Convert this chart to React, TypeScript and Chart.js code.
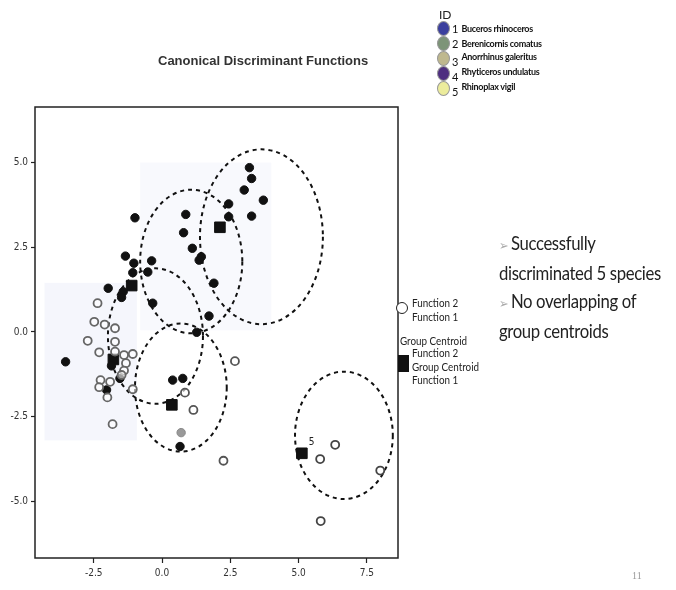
import React, { useEffect, useRef } from "react";
import { Chart, registerables } from "chart.js";

Chart.register(...registerables);

// ---- data (discriminant scores) ----
const xTicks = [-2.5, 0, 2.5, 5, 7.5];
const yTicks = [-5, -2.5, 0, 2.5, 5];

const clusterUpperRight = [
  [3.2, 4.85], [3.28, 4.53], [3.01, 4.19], [3.71, 3.89], [2.44, 3.78], [3.28, 3.42], [2.44, 3.4],
];
const clusterMiddle = [
  [0.87, 3.47], [0.79, 2.93], [1.11, 2.47], [1.44, 2.22], [1.36, 2.12], [1.9, 1.44], [1.72, 0.47], [1.27, -0.01],
];
const clusterLeftFilled = [
  [-0.99, 3.37], [-1.34, 2.24], [-1.03, 2.03], [-0.38, 2.1], [-0.52, 1.77], [-1.07, 1.75], [-1.97, 1.29],
  [-1.42, 1.19], [-1.48, 1.02], [-0.34, 0.85], [-3.53, -0.88], [-2.03, -1.71], [-1.54, -1.37], [-1.85, -1.0],
];
const clusterLowerFilled = [
  [0.39, -1.42], [0.76, -1.37], [0.66, -3.38],
];
const clusterLeftOpen = [
  [-2.36, 0.85], [-2.48, 0.3], [-2.1, 0.22], [-1.72, 0.11], [-2.72, -0.26], [-2.3, -0.6], [-1.72, -0.29],
  [-1.72, -0.58], [-1.39, -0.68], [-1.07, -0.65], [-1.32, -0.92], [-1.39, -1.14], [-1.48, -1.27],
  [-2.25, -1.42], [-1.9, -1.47], [-2.3, -1.63], [-2.0, -1.93], [-1.07, -1.69], [-1.81, -2.72],
];
const otherOpen = [
  [0.84, -1.79], [1.15, -2.3], [2.67, -0.86], [2.25, -3.8],
];
const greyFilled = [[0.7, -2.97]];
const clusterRightOpen = [
  [5.79, -3.75], [6.34, -3.33], [7.99, -4.09], [5.81, -5.58],
];
const centroids = [
  [2.12, 3.09], [-1.11, 1.37], [-1.78, -0.81], [0.36, -2.15], [5.12, -3.58],
];
// ellipses: centre x, centre y, radius x, radius y (data units)
const ellipses = [
  [3.64, 2.81, 2.25, 2.58],
  [1.07, 2.08, 1.87, 2.12],
  [-0.24, -0.12, 1.74, 2.0],
  [0.69, -1.64, 1.68, 1.89],
  [6.66, -3.05, 1.79, 1.88],
];
const legendIds = ["1", "2", "3", "4", "5"];
const legendNames = ["Buceros rhinoceros", "Berenicornis comatus", "Anorrhinus galeritus", "Rhyticeros undulatus", "Rhinoplax vigil"];
const legendColors = ["#3b3f9e", "#7d9478", "#bfb88e", "#4e2f80", "#ecec9c"];

const toPts = (a: number[][]) => a.map(([x, y]) => ({ x, y }));

const ellipsePlugin = {
  id: "ellipses",
  beforeDatasetsDraw(chart: any) {
    const { ctx, scales, chartArea } = chart;
    const xs = scales.x, ys = scales.y;
    ctx.save();
    // faint background shading of the photographed slide
    ctx.fillStyle = "rgba(232,235,248,0.45)";
    const a1 = [xs.getPixelForValue(-4.3), ys.getPixelForValue(1.45)];
    const b1 = [xs.getPixelForValue(-0.92), ys.getPixelForValue(-3.2)];
    ctx.fillRect(a1[0], a1[1], b1[0] - a1[0], b1[1] - a1[1]);
    ctx.fillStyle = "rgba(238,241,250,0.4)";
    const a2 = [xs.getPixelForValue(-0.8), ys.getPixelForValue(5.0)];
    const b2 = [xs.getPixelForValue(4.0), ys.getPixelForValue(0.05)];
    ctx.fillRect(a2[0], a2[1], b2[0] - a2[0], b2[1] - a2[1]);
    ctx.restore();

    ctx.save();
    ctx.strokeStyle = "#111";
    ctx.lineWidth = 2;
    ctx.setLineDash([4, 4]);
    for (const [cx, cy, rx, ry] of ellipses) {
      const px = xs.getPixelForValue(cx);
      const py = ys.getPixelForValue(cy);
      const prx = Math.abs(xs.getPixelForValue(cx + rx) - px);
      const pry = Math.abs(ys.getPixelForValue(cy + ry) - py);
      ctx.beginPath();
      ctx.ellipse(px, py, prx, pry, 0, 0, Math.PI * 2);
      ctx.stroke();
    }
    ctx.restore();
    // frame
    ctx.save();
    ctx.strokeStyle = "#222";
    ctx.lineWidth = 1.5;
    ctx.strokeRect(chartArea.left, chartArea.top, chartArea.right - chartArea.left, chartArea.bottom - chartArea.top);
    ctx.restore();
  },
  afterDatasetsDraw(chart: any) {
    const { ctx, scales } = chart;
    const c = centroids[4];
    ctx.save();
    ctx.fillStyle = "#222";
    ctx.font = "10px 'DejaVu Sans Condensed', Arial, sans-serif";
    ctx.fillText("5", scales.x.getPixelForValue(c[0]) + 7, scales.y.getPixelForValue(c[1]) - 8);
    ctx.restore();
  },
};

const tickFont = { family: "'DejaVu Sans Condensed', Arial, sans-serif", size: 10 };

export default function App() {
  const ref = useRef<HTMLCanvasElement>(null);
  useEffect(() => {
    if (!ref.current) return;
    const filled = (data: number[][], label: string) => ({
      label, data: toPts(data), pointRadius: 4.2, pointBackgroundColor: "#111", pointBorderColor: "#111", pointBorderWidth: 1, showLine: false,
    });
    const open = (data: number[][], label: string, color: string) => ({
      label, data: toPts(data), pointRadius: 4, pointBackgroundColor: "rgba(255,255,255,0.6)", pointBorderColor: color, pointBorderWidth: 1.8, showLine: false,
    });
    const chart = new Chart(ref.current, {
      type: "scatter",
      data: {
        datasets: [
          open(clusterLeftOpen, "Anorrhinus galeritus", "#666"),
          open(otherOpen, "Other", "#555"),
          open(clusterRightOpen, "Rhinoplax vigil", "#444"),
          { label: "grey", data: toPts(greyFilled), pointRadius: 4.2, pointBackgroundColor: "#999", pointBorderColor: "#888", showLine: false },
          filled(clusterUpperRight, "Buceros rhinoceros"),
          filled(clusterMiddle, "Berenicornis comatus"),
          filled(clusterLeftFilled, "Rhyticeros undulatus"),
          filled(clusterLowerFilled, "Lower"),
          { label: "Group Centroid", data: toPts(centroids), pointStyle: "rect", pointRadius: 7.5, pointBackgroundColor: "#111", pointBorderColor: "#111", showLine: false },
        ],
      },
      options: {
        animation: false,
        responsive: false,
        layout: { padding: { left: 0, top: 107, right: 278, bottom: 0 } },
        plugins: { legend: { display: false }, title: { display: false }, tooltip: { enabled: false } },
        scales: {
          x: {
            type: "linear", min: -4.65, max: 8.64,
            afterBuildTicks: (s: any) => { s.ticks = xTicks.map((v) => ({ value: v })); },
            afterFit: (s: any) => { s.height = 32; },
            ticks: { color: "#333", font: tickFont, padding: 4, callback: (v: any) => Number(v).toFixed(1) },
            grid: { drawOnChartArea: false, color: "#222", tickLength: 5, tickWidth: 1.2 },
            border: { display: false },
          },
          y: {
            type: "linear", min: -6.67, max: 6.64,
            afterBuildTicks: (s: any) => { s.ticks = yTicks.map((v) => ({ value: v })); },
            afterFit: (s: any) => { s.width = 35; },
            ticks: { color: "#333", font: tickFont, padding: 3, callback: (v: any) => Number(v).toFixed(1) },
            grid: { drawOnChartArea: false, color: "#222", tickLength: 4, tickWidth: 1.2 },
            border: { display: false },
          },
        },
      },
      plugins: [ellipsePlugin],
    });
    return () => chart.destroy();
  }, []);

  const slide = "Lato, 'Noto Sans', sans-serif";
  const abs = (left: number, top: number, extra: any = {}) => ({ position: "absolute" as const, left, top, whiteSpace: "nowrap" as const, ...extra });
  const squeeze = (k: number) => ({ transform: `scaleX(${k})`, transformOrigin: "left top" });

  return (
    <div style={{ position: "absolute", left: 0, top: 0, width: 676, height: 590, background: "#fff", overflow: "hidden" }}>
      <canvas ref={ref} width={676} height={590} style={{ position: "absolute", left: 0, top: 0 }} />
      <div style={abs(158, 53, { fontFamily: "Arial, 'Liberation Sans', sans-serif", fontWeight: "bold", fontSize: 13, color: "#333" })}>
        Canonical Discriminant Functions
      </div>
      {/* ID legend */}
      <div style={abs(439, 7, { fontFamily: slide, fontSize: 12, color: "#222" })}>ID</div>
      {legendIds.map((id, i) => (
        <div key={id} style={abs(437, 21 + i * 15, { fontFamily: slide, color: "#111", display: "flex", alignItems: "center" })}>
          <span style={{ display: "inline-block", width: 11, height: 13, borderRadius: "50%", background: legendColors[i], border: "1px solid #999", marginRight: 2 }} />
          <span style={{ fontSize: 11, position: "relative", top: i >= 2 ? 3 : 0 }}>{id}</span>
          <span style={{ fontSize: 9, fontWeight: "bold", marginLeft: 3, position: "relative", top: i >= 2 ? -2 : 0, letterSpacing: -0.3 }}>{legendNames[i]}</span>
        </div>
      ))}
      {/* chart legend */}
      <div style={abs(396, 302, { width: 12, height: 12, borderRadius: "50%", border: "1.5px solid #222", boxSizing: "border-box", background: "#fff" })} />
      <div style={abs(412, 296, { fontFamily: slide, fontSize: 12, color: "#222", lineHeight: "13.5px", ...squeeze(0.82) })}>
        Function 2<br />Function 1
      </div>
      <div style={abs(400, 333, { fontFamily: slide, fontSize: 12, color: "#222", ...squeeze(0.82) })}>Group Centroid</div>
      <div style={abs(398, 355, { width: 11, height: 17, background: "#111" })} />
      <div style={abs(412, 346, { fontFamily: slide, fontSize: 12, color: "#222", lineHeight: "13.5px", ...squeeze(0.82) })}>
        Function 2<br />Group Centroid<br />Function 1
      </div>
      {/* bullets */}
      <div style={abs(499, 229, { fontFamily: slide, fontSize: 19, color: "#222", lineHeight: "28px", letterSpacing: -0.4, ...squeeze(0.88) })}>
        <span style={{ color: "#aaa", fontSize: 13 }}>➢ </span>Successfully<br />
        discriminated 5 species<br />
        <span style={{ color: "#aaa", fontSize: 13 }}>➢ </span>No overlapping of<br />
        group centroids
      </div>
      <div style={abs(632, 570, { fontFamily: "serif", fontSize: 10, color: "#999" })}>11</div>
    </div>
  );
}
